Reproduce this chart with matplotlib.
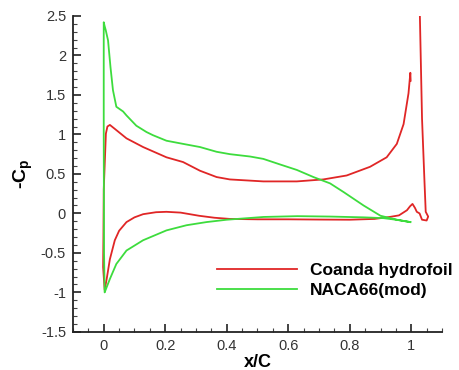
import matplotlib
matplotlib.use("Agg")
import matplotlib.pyplot as plt
from matplotlib.ticker import MultipleLocator

plt.rcParams['font.family'] = ['Liberation Sans', 'DejaVu Sans']
plt.rcParams['mathtext.fontset'] = 'custom'
plt.rcParams['mathtext.rm'] = 'Liberation Sans'
plt.rcParams['mathtext.bf'] = 'Liberation Sans:bold'

# Coanda hydrofoil: upper surface (TE -> LE), stagnation, lower surface, Coanda tail
coanda_x = [0.998, 0.997, 0.991, 0.975, 0.953, 0.920, 0.866, 0.790, 0.714, 0.628,
            0.519, 0.410, 0.367, 0.313, 0.258, 0.204, 0.128, 0.074, 0.036, 0.020,
            0.012, 0.007, 0.003, 0.000, -0.001, -0.002, 0.003, 0.010, 0.020, 0.036,
            0.050, 0.074, 0.100, 0.128, 0.170, 0.204, 0.250, 0.310, 0.360, 0.410,
            0.500, 0.600, 0.700, 0.800, 0.880, 0.930, 0.960, 0.986, 0.996, 1.004,
            1.012, 1.018, 1.027, 1.035, 1.050, 1.055, 1.047, 1.043, 1.035, 1.028]
coanda_cp = [1.68, 1.78, 1.52, 1.13, 0.88, 0.71, 0.59, 0.48, 0.43, 0.405,
             0.405, 0.43, 0.46, 0.54, 0.65, 0.71, 0.84, 0.95, 1.07, 1.12,
             1.10, 1.01, 0.60, 0.30, -0.30, -0.68, -0.97, -0.82, -0.58, -0.34,
             -0.22, -0.11, -0.05, -0.01, 0.015, 0.02, 0.01, -0.03, -0.055, -0.07,
             -0.075, -0.075, -0.078, -0.08, -0.07, -0.045, -0.025, 0.04, 0.09, 0.12,
             0.07, 0.02, 0.0, -0.08, -0.09, -0.04, 0.02, 0.40, 1.20, 2.50]

# NACA66(mod): upper surface (TE -> LE), leading edge, lower surface (LE -> TE)
naca_x = [0.997, 0.953, 0.900, 0.845, 0.780, 0.736, 0.682, 0.628, 0.573, 0.519,
          0.476, 0.410, 0.367, 0.313, 0.258, 0.204, 0.160, 0.139, 0.106, 0.074,
          0.063, 0.052, 0.041, 0.030, 0.022, 0.014, 0.0065, 0.003, 0.000, 0.000,
          0.001, 0.003, 0.008, 0.020, 0.041, 0.074, 0.128, 0.204, 0.269, 0.334,
          0.400, 0.520, 0.630, 0.736, 0.845, 0.910, 0.950, 0.997]
naca_cp = [-0.11, -0.08, -0.03, 0.10, 0.27, 0.38, 0.46, 0.55, 0.62, 0.69,
           0.72, 0.75, 0.78, 0.84, 0.88, 0.92, 0.99, 1.03, 1.11, 1.24,
           1.29, 1.32, 1.35, 1.56, 1.85, 2.19, 2.32, 2.37, 2.42, 1.00,
           -0.50, -1.00, -0.95, -0.83, -0.64, -0.47, -0.34, -0.215, -0.15, -0.11,
           -0.08, -0.045, -0.035, -0.04, -0.05, -0.06, -0.08, -0.11]

series_labels = ['Coanda hydrofoil', 'NACA66(mod)']
x_ticks = [0, 0.2, 0.4, 0.6, 0.8, 1]
x_tick_labels = ['0', '0.2', '0.4', '0.6', '0.8', '1']
y_ticks = [-1.5, -1, -0.5, 0, 0.5, 1, 1.5, 2, 2.5]
y_tick_labels = ['-1.5', '-1', '-0.5', '0', '0.5', '1', '1.5', '2', '2.5']

fig = plt.figure(figsize=(4.59, 3.70), dpi=100)
ax = fig.add_axes([0.159, 0.103, 0.804, 0.854])

ax.plot(coanda_x, coanda_cp, color='#e02626', lw=1.3, label=series_labels[0])
ax.plot(naca_x, naca_cp, color='#3ddc3d', lw=1.3, label=series_labels[1])

ax.set_xlim(-0.1, 1.1)
ax.set_ylim(-1.5, 2.5)
ax.set_xticks(x_ticks)
ax.set_xticklabels(x_tick_labels)
ax.set_yticks(y_ticks)
ax.set_yticklabels(y_tick_labels)
ax.xaxis.set_minor_locator(MultipleLocator(0.05))
ax.yaxis.set_minor_locator(MultipleLocator(0.1))

for s in ['top', 'right']:
    ax.spines[s].set_visible(False)
for s in ['left', 'bottom']:
    ax.spines[s].set_linewidth(1.3)
    ax.spines[s].set_color('#222222')

ax.tick_params(which='major', direction='in', length=6, width=1.2,
               labelsize=10.5, colors='#222222', labelcolor='#333333', pad=5)
ax.tick_params(which='minor', direction='in', length=3, width=0.8, colors='#444444')

ax.set_xlabel('x/C', fontsize=13, fontweight='bold', labelpad=1)
ax.set_ylabel('-C$_{\\mathbf{p}}$', fontsize=14, fontweight='bold', labelpad=4)

leg = ax.legend(loc='upper left', bbox_to_anchor=(0.39, 0.218), frameon=False,
                borderpad=0, borderaxespad=0,
                handlelength=4.6, handletextpad=0.75, labelspacing=0.27,
                prop={'weight': 'bold', 'size': 12.5})

fig.savefig('out.png', dpi=100)
